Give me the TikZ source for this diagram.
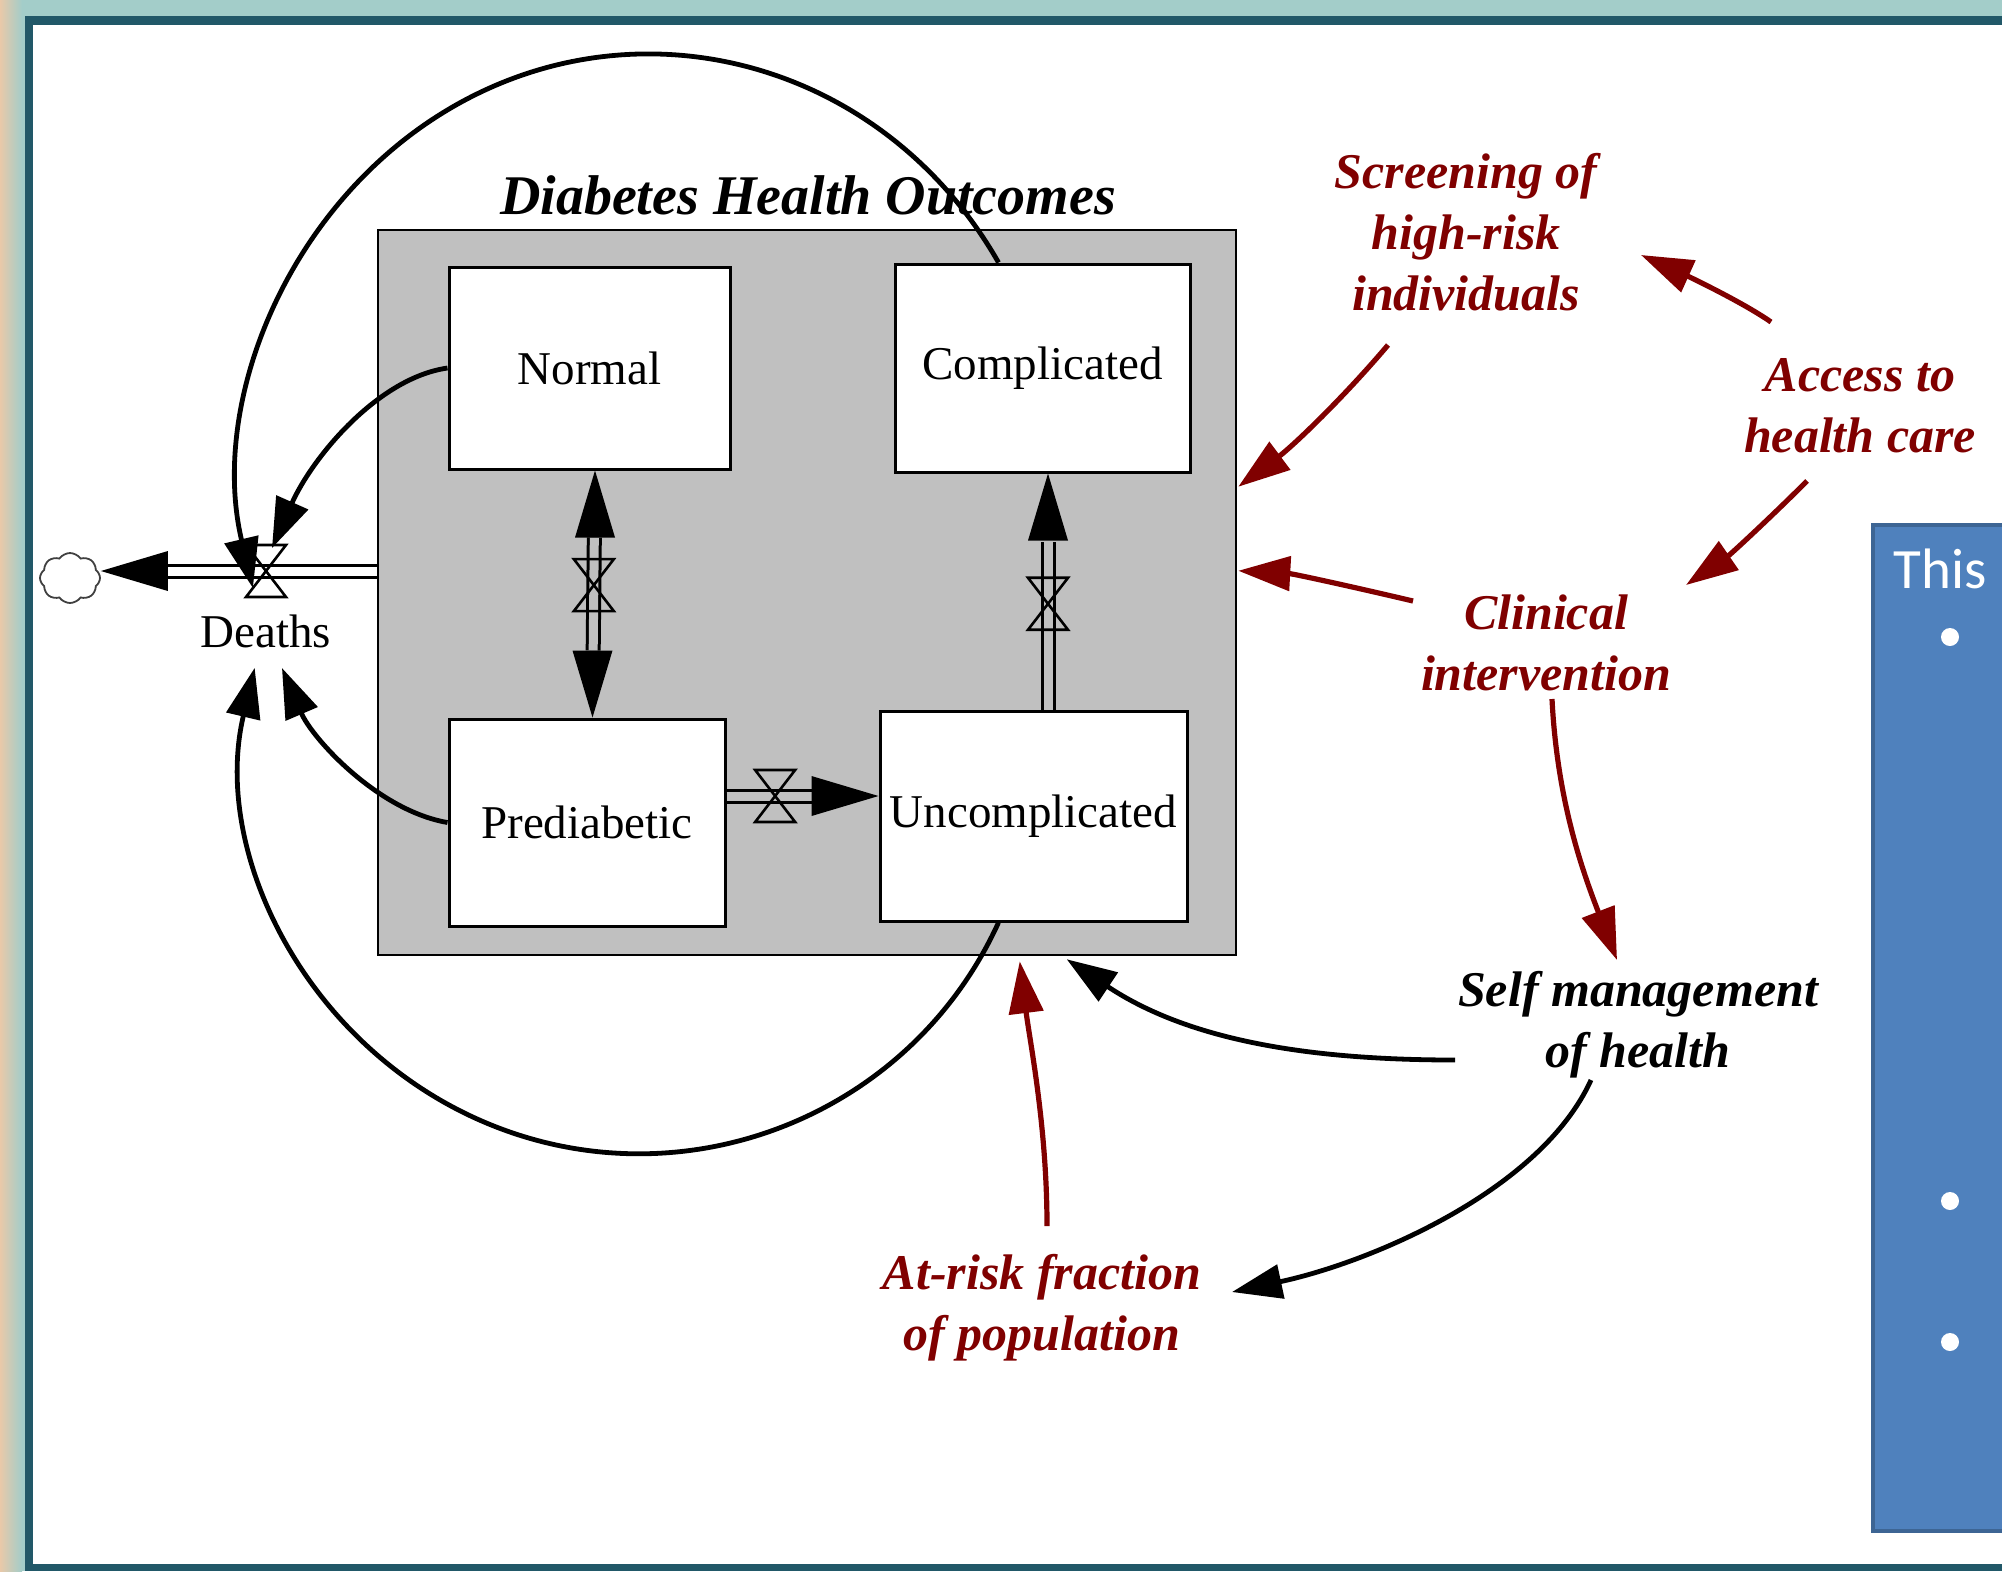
\documentclass[tikz,border=0pt]{standalone}
\usepackage{fontspec}
\setmainfont{Liberation Serif}
\newfontfamily\slidefont{Carlito}
\usetikzlibrary{arrows.meta,calc,shapes.symbols}

\definecolor{rimaqua}{HTML}{A3CDC9}
\definecolor{rimpeach}{HTML}{E9C9A9}
\definecolor{rimteal}{HTML}{215868}
\definecolor{stockgray}{HTML}{C0C0C0}
\definecolor{linkred}{HTML}{800000}
\definecolor{panelblue}{HTML}{4F81BD}
\definecolor{paneledge}{HTML}{3D6594}

\begin{document}
\begin{tikzpicture}[x=0.5pt,y=-0.5pt,
  stock/.style={draw=black, line width=1.5pt, fill=white, inner sep=0pt,
    font=\fontsize{23.5pt}{28pt}\selectfont},
  lbl/.style={align=center, font=\fontsize{25pt}{30.5pt}\selectfont\bfseries\itshape},
  redlbl/.style={lbl, text=linkred},
  pipe/.style={double=#1, double distance=4.5pt, line width=1.5pt},
  link/.style={line width=2.4pt, -{Triangle[length=25pt,width=17pt]}},
  redlink/.style={draw=linkred, line width=2.6pt, -{Triangle[length=26pt,width=17pt]}},
  valve/.pic={\draw[line width=1.3pt] (-20,-26) -- (20,-26) -- (-20,26) -- (20,26) -- cycle;},
  flowhead/.pic={\fill (0,0) -- (-67,20) -- (-67,-20) -- cycle;},
]
\useasboundingbox (0,0) rectangle (2002,1571);

% slide frame
\fill[rimaqua] (0,0) rectangle (2002,1571);
\shade[left color=rimpeach, right color=rimaqua] (0,0) rectangle (22,1571);
\fill[rimteal] (25,16) rectangle (2002,1571);
\fill[white] (33,25) rectangle (2002,1564);

% side panel
\filldraw[fill=panelblue, draw=paneledge, line width=2pt] (1873,525) rectangle (2012,1531);
\node[anchor=base west, text=white, inner sep=0pt,
  font=\slidefont\fontsize{28.5pt}{34pt}\selectfont] (this) at (1893,588) {This};
\node[circle, fill=white, minimum size=9pt, inner sep=0pt] (b1) at (1950,637) {};
\node[circle, fill=white, minimum size=9pt, inner sep=0pt] (b2) at (1950,1201) {};
\node[circle, fill=white, minimum size=9pt, inner sep=0pt] (b3) at (1950,1342) {};

% sector box and stocks
\node[draw=black, fill=stockgray, line width=1.25pt, minimum width=429pt,
  minimum height=362.5pt, inner sep=0pt] (gb) at (807,592.5) {};
\node[anchor=base, inner sep=0pt,
  font=\fontsize{28pt}{32pt}\selectfont\bfseries\itshape] (title) at (808,214)
  {Diabetes Health Outcomes};

\node[stock, minimum width=140.5pt, minimum height=101pt] (norm) at (589.5,368) {Normal};
\node[stock, minimum width=147.5pt, minimum height=104pt] (cmp) at (1042.5,368) {Complicated};
\node[stock, minimum width=138pt, minimum height=103.5pt] (pred) at (587,822.5) {Prediabetic};
\node[stock, minimum width=153.5pt, minimum height=105pt] (unc) at (1033.5,816) {Uncomplicated};

% flows between stocks
\coordinate (p1a) at ([xshift=2.75pt]norm.south);
\coordinate (p1b) at ([xshift=2.75pt]pred.north);
\draw[pipe=stockgray, shorten <=33.5pt, shorten >=33.5pt] (p1a) -- (p1b);
\pic[rotate=90] at (p1a) {flowhead};
\pic[rotate=-90] at (p1b) {flowhead};
\pic at ($(p1a)!0.464!(p1b)$) {valve};

\coordinate (p2a) at ([yshift=13.25pt]pred.east);
\coordinate (p2b) at (p2a -| unc.west);
\draw[pipe=stockgray, shorten >=33.5pt] (p2a) -- (p2b);
\pic at (p2b) {flowhead};
\pic at ($(p2a)!0.32!(p2b)$) {valve};

\coordinate (p3a) at ([xshift=7.25pt]unc.north);
\coordinate (p3b) at (p3a |- cmp.south);
\draw[pipe=stockgray, shorten >=34pt] (p3a) -- (p3b);
\pic[rotate=90] at (p3b) {flowhead};
\pic at ($(p3a)!0.448!(p3b)$) {valve};

% outflow to the sink
\node[cloud, draw=black!75, line width=0.9pt, cloud puffs=8, cloud puff arc=110,
  aspect=1.2, minimum width=30pt, minimum height=25pt, inner sep=0pt] (sink) at (70,578) {};
\coordinate (dv) at (266,571);
\draw[pipe=white, shorten >=32.5pt] (gb.west |- dv) -- (sink.east |- dv);
\pic[rotate=180] at (sink.east |- dv) {flowhead};
\pic at (dv) {valve};
\node[anchor=base, inner sep=0pt, font=\fontsize{23.5pt}{28pt}\selectfont] (deaths) at (266,647) {Deaths};

% influences on deaths
\draw[link] (norm.west) .. controls +(-70,10) and +(40,-90) .. ($(dv)+(6,-23)$);
\draw[link] (pred.west) .. controls +(-70,-12) and +(30,70) .. ($(deaths.base)+(16,21)$);
\draw[link] ($(cmp.north west)+(105,0)$) arc[start angle=-31, end angle=-194, x radius=408, y radius=430];
\draw[link] ($(unc.south west)+(120,0)$) arc[start angle=24.5, end angle=193.3, radius=395];

% policy levers
\node[redlbl] (scr) at (1466,232) {Screening of\\high-risk\\individuals};
\node[redlbl] (acc) at (1860,406) {Access to\\health care};
\node[redlbl] (clin) at (1546,643) {Clinical\\intervention};
\node[lbl] (self) at (1638,1025) {Self management\\of health};
\node[redlbl] (risk) at (1042,1308) {At-risk fraction\\of population};

\draw[redlink] ($(scr)+(-78,113)$) .. controls +(-44,52) and +(55,-41) .. ($(gb.north east)+(1,258)$);
\draw[redlink] ($(acc)+(-89,-84)$) .. controls +(-30,-21) and +(40,18) .. ($(scr)+(175,23)$);
\draw[redlink] ($(acc)+(-53,75)$) .. controls +(-35,35) and +(45,-31) .. ($(clin)+(140,-58)$);
\draw[redlink] ($(clin)+(-133,-42)$) .. controls +(-55,-13) and +(55,3) .. ($(gb.north east)+(1,342)$);
\draw[redlink] ($(clin)+(6,56)$) .. controls +(5,100) and +(-35,-90) .. ($(self)+(-21,-65)$);
\draw[redlink] ($(risk)+(5,-82)$) .. controls +(0,-100) and +(10,80) .. ($(gb.south west)+(643,5)$);

\draw[link] ($(self)+(-183,35)$) .. controls +(-150,0) and +(120,80) .. ($(gb.south west)+(690,3)$);
\draw[link] ($(self)+(-47,55)$) .. controls +(-50,110) and +(140,-30) .. ($(risk)+(190,-16)$);
\end{tikzpicture}
\end{document}
